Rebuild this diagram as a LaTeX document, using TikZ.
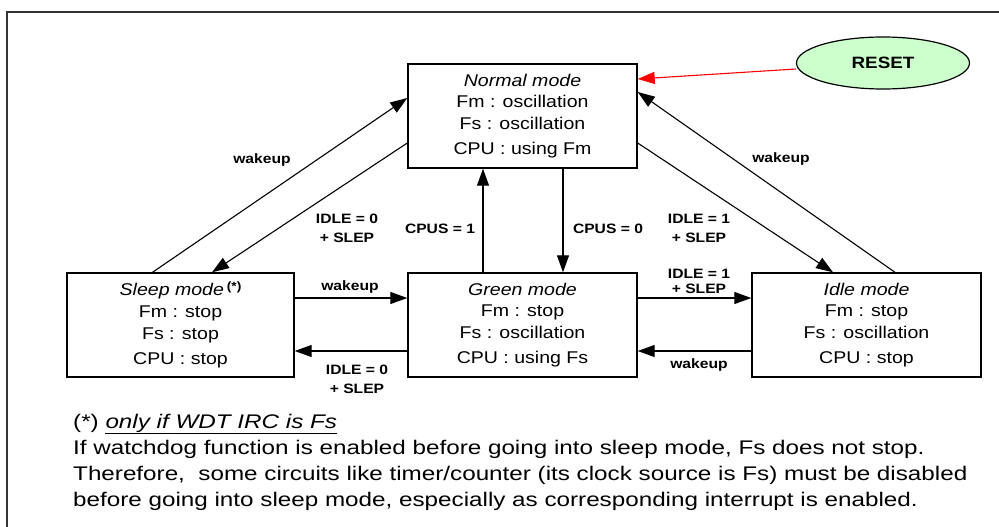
\documentclass[tikz,border=0pt]{standalone}
\usepackage{fontspec}
\setmainfont[FakeStretch=1.15]{Liberation Sans}
\newfontfamily\notefont[FakeStretch=1.23]{Liberation Sans}
\usetikzlibrary{arrows.meta,positioning,shapes.geometric}
\definecolor{resetgreen}{RGB}{204,255,204}

\tikzset{
  modebox/.style={draw, line width=1.4pt, minimum width=229pt, minimum height=104pt,
    inner sep=0pt, align=center, font=\fontsize{17}{21.75}\selectfont},
  trans/.style={-{Triangle[length=17pt,width=12pt]}, line width=1.1pt},
  lbl/.style={font=\bfseries\fontsize{13.6}{19}\selectfont, align=center, inner sep=0pt},
}

\begin{document}
\begin{tikzpicture}[x=1pt,y=-1pt]
  \useasboundingbox (0,0) rectangle (999,527);
  \clip (0,0) rectangle (999,527);
  % cadre
  \draw[line width=1.3pt, black!80] (7,12) rectangle (1010,540);

  % modes
  \node[modebox] (normal) at (522.5,116)
    {\textit{Normal mode}\\Fm : oscillation\\Fs : oscillation\\[3.5pt]CPU : using Fm};
  \node[modebox, minimum width=227pt] (sleep) at (180.5,325)
    {\textit{Sleep mode}\,\raisebox{0.6ex}{\bfseries\fontsize{12}{12}\selectfont(*)}\\Fm : stop\\Fs : stop\\[3.5pt]CPU : stop};
  \node[modebox] (green) at (522.5,325)
    {\textit{Green mode}\\Fm : stop\\Fs : oscillation\\[3.5pt]CPU : using Fs};
  \node[modebox] (idle) at (866.5,325)
    {\textit{Idle mode}\\Fm : stop\\Fs : oscillation\\[3.5pt]CPU : stop};
  \node[ellipse, draw, line width=1.2pt, fill=resetgreen, minimum width=173pt, minimum height=52pt,
    inner sep=0pt, font=\bfseries\fontsize{16.4}{20}\selectfont] (reset) at (883,63) {RESET};

  % transitions
  \draw[trans, red] ([yshift=-6pt]reset.west) -- ([yshift=37pt]normal.east);
  \draw[trans] ([xshift=-28pt]sleep.north) -- ([yshift=18pt]normal.west);
  \draw[trans] ([yshift=-27pt]normal.west) -- ([xshift=31.5pt]sleep.north);
  \draw[trans] ([xshift=-39.5pt]green.north) -- ([xshift=-39.5pt]normal.south);
  \draw[trans] ([xshift=40.5pt]normal.south) -- ([xshift=40.5pt]green.north);
  \draw[trans] ([yshift=-27pt]normal.east) -- ([xshift=-33.5pt]idle.north);
  \draw[trans] ([xshift=28.5pt]idle.north) -- ([yshift=24pt]normal.east);
  \draw[trans] ([yshift=27pt]sleep.east) -- ([yshift=27pt]green.west);
  \draw[trans] ([yshift=-26pt]green.west) -- ([yshift=-26pt]sleep.east);
  \draw[trans] ([yshift=27pt]green.east) -- ([yshift=27pt]idle.west);
  \draw[trans] ([yshift=-26pt]idle.west) -- ([yshift=-26pt]green.east);

  % etichette
  \node[lbl] (l-wake-sn) at (262,160) {wakeup};
  \node[lbl] (l-idle-ns) at (347,228) {IDLE = 0\\+ SLEP};
  \node[lbl] (l-cpus-gn) at (440,229) {CPUS = 1};
  \node[lbl] (l-cpus-ng) at (608,229) {CPUS = 0};
  \node[lbl] (l-idle-ni) at (699,228) {IDLE = 1\\+ SLEP};
  \node[lbl] (l-wake-in) at (781,159) {wakeup};
  \node[lbl] (l-wake-sg) at (350,287) {wakeup};
  \node[lbl] (l-idle-gs) at (357,379) {IDLE = 0\\+ SLEP};
  \node[lbl, font=\bfseries\fontsize{13.6}{15}\selectfont] (l-idle-gi) at (699,281) {IDLE = 1\\+ SLEP};
  \node[lbl] (l-wake-ig) at (699,365) {wakeup};

  % nota
  \node[anchor=base west, inner sep=0pt, align=left, font=\notefont\fontsize{19.7}{26}\selectfont] (note) at (73,506)
    {(*) \underline{\textit{only if WDT IRC is Fs}}\\
     If watchdog function is enabled before going into sleep mode, Fs does not stop.\\
     Therefore,\ \ some circuits like timer/counter (its clock source is Fs) must be disabled\\
     before going into sleep mode, especially as corresponding interrupt is enabled.};
\end{tikzpicture}
\end{document}
